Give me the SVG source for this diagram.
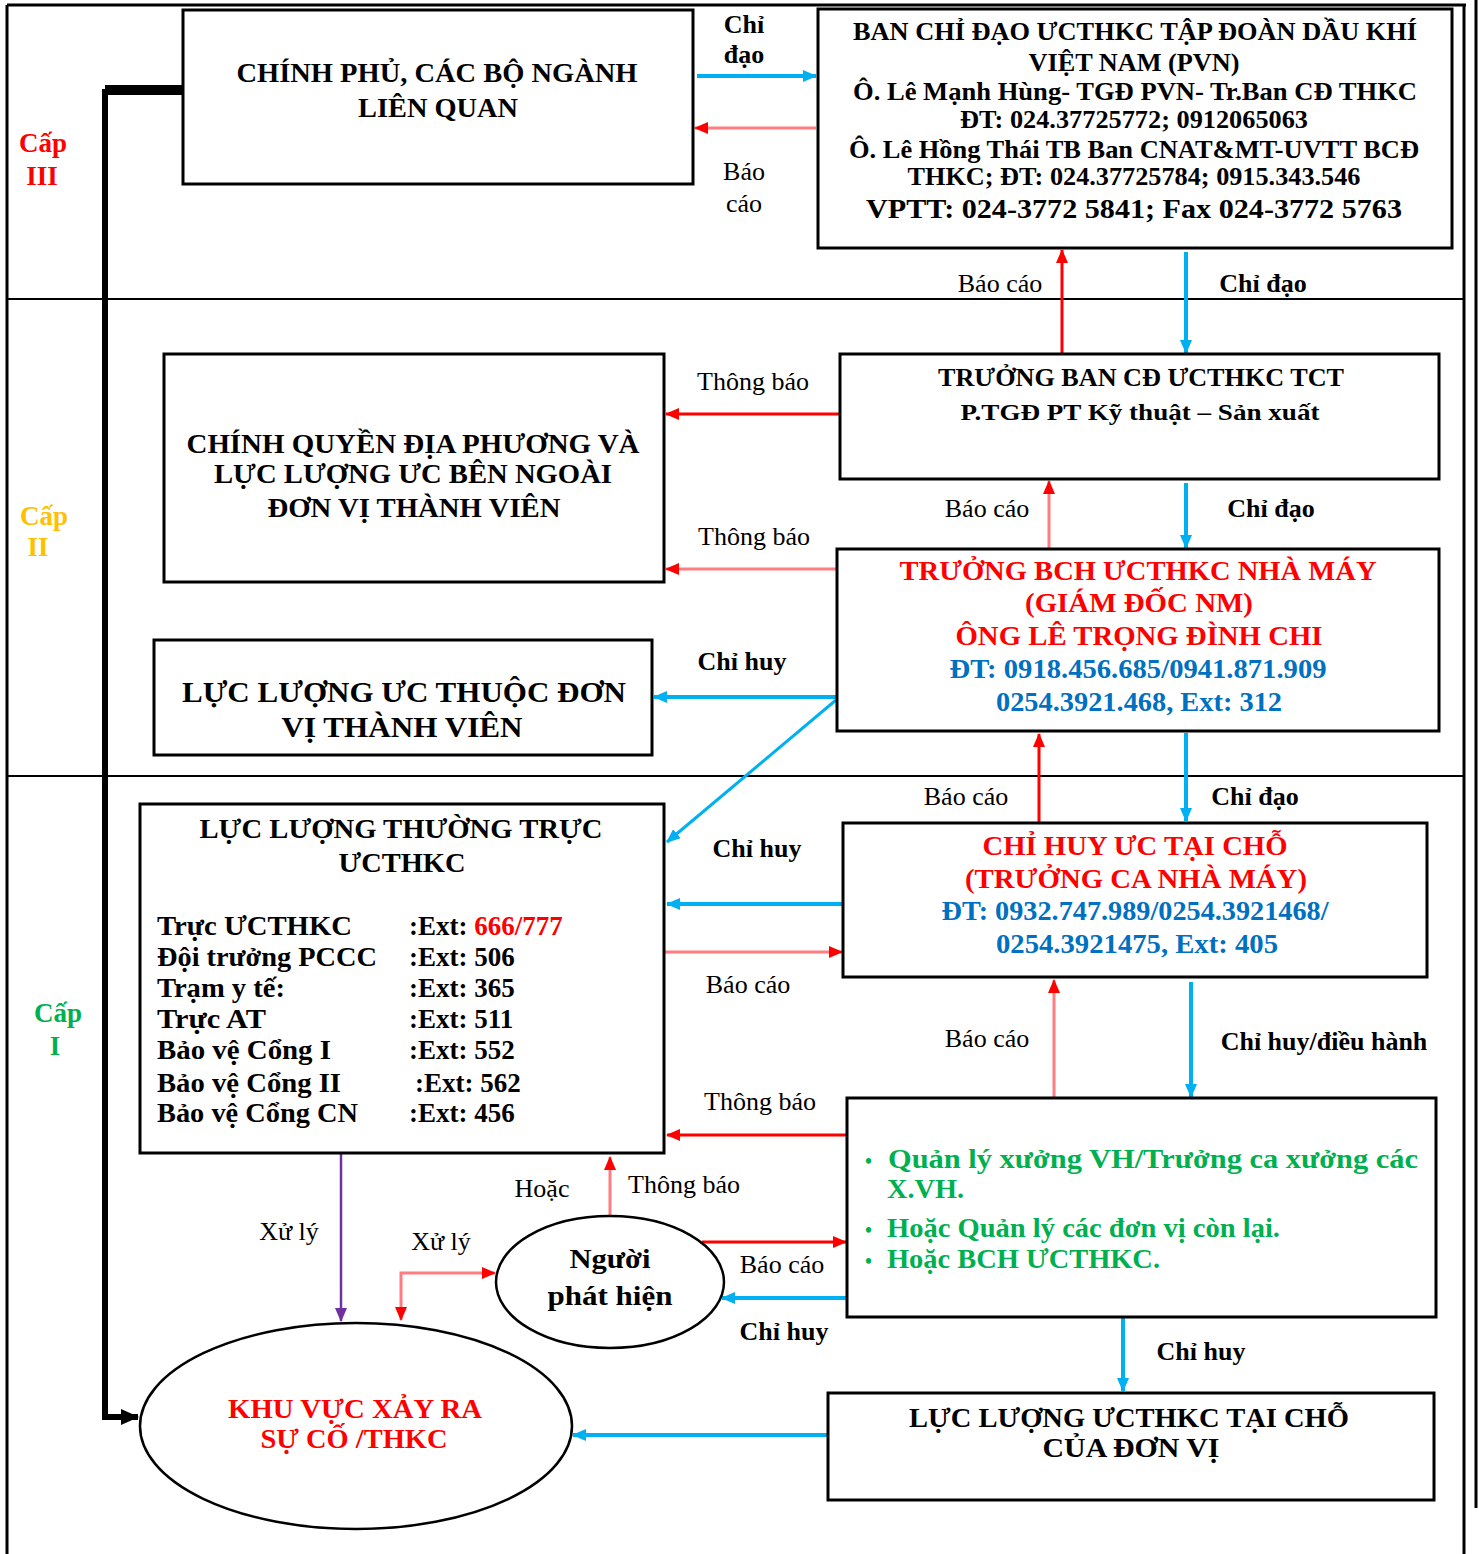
<svg xmlns="http://www.w3.org/2000/svg" width="1479" height="1554" viewBox="0 0 1479 1554">
<defs>
<style>
text{font-family:"Liberation Serif","Times New Roman",serif;font-weight:bold;fill:#000}
.c{text-anchor:middle}
.s{text-anchor:start}
.n{font-weight:normal}
.box{fill:#fff;stroke:#000;stroke-width:3}
.ell{fill:#fff;stroke:#000;stroke-width:2.5}
.frame{fill:none;stroke:#000;stroke-width:3}
.div{fill:none;stroke:#000;stroke-width:2}
.blue{fill:none;stroke:#00B0F0;stroke-width:4}
.red{fill:none;stroke:#FF0000;stroke-width:3}
.lred{fill:none;stroke:#FF7C80;stroke-width:3}
.pur{fill:none;stroke:#7030A0;stroke-width:2.5}
.blk{fill:none;stroke:#000;stroke-width:6}
.red-t{fill:#FF0000}
.blue-t{fill:#0070C0}
.green-t{fill:#00B050}
.yel-t{fill:#FFC000}
.lbl{font-size:26px}
</style>
<marker id="mb" markerUnits="userSpaceOnUse" markerWidth="14" markerHeight="12" refX="13" refY="6" orient="auto-start-reverse"><path d="M0,0 L14,6 L0,12 z" fill="#00B0F0"/></marker>
<marker id="mr" markerUnits="userSpaceOnUse" markerWidth="14" markerHeight="12" refX="13" refY="6" orient="auto-start-reverse"><path d="M0,0 L14,6 L0,12 z" fill="#FF0000"/></marker>
<marker id="mp" markerUnits="userSpaceOnUse" markerWidth="14" markerHeight="12" refX="13" refY="6" orient="auto-start-reverse"><path d="M0,0 L14,6 L0,12 z" fill="#7030A0"/></marker>
<marker id="mk" markerUnits="userSpaceOnUse" markerWidth="18" markerHeight="16" refX="17" refY="8" orient="auto-start-reverse"><path d="M0,0 L18,8 L0,16 z" fill="#000"/></marker>
</defs>

<g id="frame">
<path class="frame" d="M7,5 L1466,5"/>
<path class="frame" d="M7,5 L7,1554"/>
<path class="frame" d="M1464,5 L1464,1554"/>
<path class="frame" d="M1476,0 L1476,1508"/>
<path class="div" d="M7,299 L1464,299"/>
<path class="div" d="M7,776 L1464,776"/>
</g>

<g id="levels">
<text class="c red-t" x="43" y="152" font-size="27">Cấp</text>
<text class="c red-t" x="42" y="185" font-size="27">III</text>
<text class="c yel-t" x="44" y="525" font-size="27">Cấp</text>
<text class="c yel-t" x="38" y="556" font-size="27">II</text>
<text class="c green-t" x="58" y="1022" font-size="27">Cấp</text>
<text class="c green-t" x="55" y="1055" font-size="27">I</text>
</g>

<g id="connectors">
<path class="blk" d="M183,92 L105,92 L105,1417 L138,1417" marker-end="url(#mk)"/>
<path d="M105,88 L183,88" stroke="#000" stroke-width="6" fill="none"/>
<path class="blue" d="M697,76 L816,76" marker-end="url(#mb)"/>
<path class="lred" d="M816,128 L695,128" marker-end="url(#mr)"/>
<path class="red" d="M1062,354 L1062,250" marker-end="url(#mr)"/>
<path class="blue" d="M1186,252 L1186,353" marker-end="url(#mb)"/>
<path class="red" d="M840,414 L666,414" marker-end="url(#mr)"/>
<path class="lred" d="M837,569 L666,569" marker-end="url(#mr)"/>
<path class="lred" d="M1049,549 L1049,481" marker-end="url(#mr)"/>
<path class="blue" d="M1186,483 L1186,548" marker-end="url(#mb)"/>
<path class="blue" d="M836,697 L654,697" marker-end="url(#mb)"/>
<path class="blue" style="stroke-width:3" d="M836,700 L667,842" marker-end="url(#mb)"/>
<path class="red" d="M1039,822 L1039,734" marker-end="url(#mr)"/>
<path class="blue" d="M1186,733 L1186,821" marker-end="url(#mb)"/>
<path class="blue" d="M843,904 L667,904" marker-end="url(#mb)"/>
<path class="lred" d="M665,952 L842,952" marker-end="url(#mr)"/>
<path class="lred" d="M1054,1097 L1054,980" marker-end="url(#mr)"/>
<path class="blue" d="M1191,982 L1191,1097" marker-end="url(#mb)"/>
<path class="red" d="M847,1135 L667,1135" marker-end="url(#mr)"/>
<path class="pur" d="M341,1154 L341,1321" marker-end="url(#mp)"/>
<path class="lred" d="M401,1320 L401,1273 L495,1273" marker-start="url(#mr)" marker-end="url(#mr)"/>
<path class="lred" d="M610,1215 L610,1157" marker-end="url(#mr)"/>
<path class="red" d="M702,1242 L846,1242" marker-end="url(#mr)"/>
<path class="blue" d="M847,1298 L722,1298" marker-end="url(#mb)"/>
<path class="blue" d="M1123,1318 L1123,1391" marker-end="url(#mb)"/>
<path class="blue" d="M828,1435 L573,1435" marker-end="url(#mb)"/>
</g>

<g id="connector-labels">
<text class="c lbl" x="744" y="33">Chỉ</text>
<text class="c lbl" x="744" y="63">đạo</text>
<text class="c lbl n" x="744" y="180">Báo</text>
<text class="c lbl n" x="744" y="212">cáo</text>
<text class="c lbl n" x="1000" y="292">Báo cáo</text>
<text class="c lbl" x="1263" y="292">Chỉ đạo</text>
<text class="c lbl n" x="753" y="390">Thông báo</text>
<text class="c lbl n" x="754" y="545">Thông báo</text>
<text class="c lbl n" x="987" y="517">Báo cáo</text>
<text class="c lbl" x="1271" y="517">Chỉ đạo</text>
<text class="c lbl" x="742" y="670">Chỉ huy</text>
<text class="c lbl n" x="966" y="805">Báo cáo</text>
<text class="c lbl" x="1255" y="805">Chỉ đạo</text>
<text class="c lbl" x="757" y="857">Chỉ huy</text>
<text class="c lbl n" x="748" y="993">Báo cáo</text>
<text class="c lbl n" x="987" y="1047">Báo cáo</text>
<text class="c lbl" x="1324" y="1050">Chỉ huy/điều hành</text>
<text class="c lbl n" x="760" y="1110">Thông báo</text>
<text class="c lbl n" x="542" y="1197">Hoặc</text>
<text class="c lbl n" x="684" y="1193">Thông báo</text>
<text class="c lbl n" x="289" y="1240">Xử lý</text>
<text class="c lbl n" x="441" y="1250">Xử lý</text>
<text class="c lbl n" x="782" y="1273">Báo cáo</text>
<text class="c lbl" x="784" y="1340">Chỉ huy</text>
<text class="c lbl" x="1201" y="1360">Chỉ huy</text>
</g>

<g id="chinh-phu">
<rect class="box" x="183" y="10" width="510" height="174"/>
<text class="c" x="437" y="82" font-size="27" textLength="401" lengthAdjust="spacingAndGlyphs">CHÍNH PHỦ, CÁC BỘ NGÀNH</text>
<text class="c" x="438" y="117" font-size="27" textLength="160" lengthAdjust="spacingAndGlyphs">LIÊN QUAN</text>
</g>

<g id="ban-chi-dao">
<rect class="box" x="818" y="9" width="634" height="239"/>
<text class="c" x="1135" y="40" font-size="25" textLength="564" lengthAdjust="spacingAndGlyphs">BAN CHỈ ĐẠO ƯCTHKC TẬP ĐOÀN DẦU KHÍ</text>
<text class="c" x="1134" y="71" font-size="25" textLength="211" lengthAdjust="spacingAndGlyphs">VIỆT NAM (PVN)</text>
<text class="c" x="1135" y="100" font-size="25" textLength="564" lengthAdjust="spacingAndGlyphs">Ô. Lê Mạnh Hùng- TGĐ PVN- Tr.Ban CĐ THKC</text>
<text class="c" x="1134" y="128" font-size="25" textLength="348" lengthAdjust="spacingAndGlyphs">ĐT: 024.37725772; 0912065063</text>
<text class="c" x="1134" y="158" font-size="25" textLength="570" lengthAdjust="spacingAndGlyphs">Ô. Lê Hồng Thái TB Ban CNAT&amp;MT-UVTT BCĐ</text>
<text class="c" x="1134" y="185" font-size="25" textLength="453" lengthAdjust="spacingAndGlyphs">THKC; ĐT: 024.37725784; 0915.343.546</text>
<text class="c" x="1134" y="218" font-size="28" textLength="536" lengthAdjust="spacingAndGlyphs">VPTT: 024-3772 5841; Fax 024-3772 5763</text>
</g>

<g id="truong-ban-tct">
<rect class="box" x="840" y="354" width="599" height="125"/>
<text class="c" x="1141" y="386" font-size="26" textLength="406" lengthAdjust="spacingAndGlyphs">TRƯỞNG BAN CĐ ƯCTHKC TCT</text>
<text class="c" x="1140" y="420" font-size="23" textLength="359" lengthAdjust="spacingAndGlyphs">P.TGĐ  PT Kỹ thuật – Sản xuất</text>
</g>

<g id="chinh-quyen">
<rect class="box" x="164" y="354" width="500" height="228"/>
<text class="c" x="413" y="453" font-size="27" textLength="453" lengthAdjust="spacingAndGlyphs">CHÍNH QUYỀN ĐỊA PHƯƠNG VÀ</text>
<text class="c" x="413" y="483" font-size="27" textLength="398" lengthAdjust="spacingAndGlyphs">LỰC LƯỢNG ƯC BÊN NGOÀI</text>
<text class="c" x="414" y="517" font-size="27" textLength="293" lengthAdjust="spacingAndGlyphs">ĐƠN VỊ THÀNH VIÊN</text>
</g>

<g id="luc-luong-uc-don-vi">
<rect class="box" x="154" y="640" width="498" height="115"/>
<text class="c" x="404" y="702" font-size="29" textLength="444" lengthAdjust="spacingAndGlyphs">LỰC LƯỢNG ƯC THUỘC ĐƠN</text>
<text class="c" x="402" y="737" font-size="29" textLength="241" lengthAdjust="spacingAndGlyphs">VỊ THÀNH VIÊN</text>
</g>

<g id="truong-bch">
<rect class="box" x="837" y="549" width="602" height="182"/>
<text class="c red-t" x="1138" y="580" font-size="27" textLength="477" lengthAdjust="spacingAndGlyphs">TRƯỞNG BCH ƯCTHKC NHÀ MÁY</text>
<text class="c red-t" x="1139" y="612" font-size="27" textLength="228" lengthAdjust="spacingAndGlyphs">(GIÁM ĐỐC NM)</text>
<text class="c red-t" x="1139" y="645" font-size="27" textLength="367" lengthAdjust="spacingAndGlyphs">ÔNG LÊ TRỌNG ĐÌNH CHI</text>
<text class="c blue-t" x="1138" y="678" font-size="27" textLength="377" lengthAdjust="spacingAndGlyphs">ĐT: 0918.456.685/0941.871.909</text>
<text class="c blue-t" x="1139" y="711" font-size="27" textLength="286" lengthAdjust="spacingAndGlyphs">0254.3921.468, Ext: 312</text>
</g>

<g id="luc-luong-thuong-truc">
<rect class="box" x="140" y="804" width="524" height="349"/>
<text class="c" x="401" y="838" font-size="27" textLength="403" lengthAdjust="spacingAndGlyphs">LỰC LƯỢNG THƯỜNG TRỰC</text>
<text class="c" x="402" y="872" font-size="27" textLength="127" lengthAdjust="spacingAndGlyphs">ƯCTHKC</text>
<text class="s" x="157" y="935" font-size="27" textLength="195" lengthAdjust="spacingAndGlyphs">Trực ƯCTHKC</text>
<text class="s" x="157" y="966" font-size="27" textLength="220" lengthAdjust="spacingAndGlyphs">Đội trưởng PCCC</text>
<text class="s" x="157" y="997" font-size="27" textLength="128" lengthAdjust="spacingAndGlyphs">Trạm y tế:</text>
<text class="s" x="157" y="1028" font-size="27" textLength="109" lengthAdjust="spacingAndGlyphs">Trực AT</text>
<text class="s" x="157" y="1059" font-size="27" textLength="174" lengthAdjust="spacingAndGlyphs">Bảo vệ Cổng I</text>
<text class="s" x="157" y="1092" font-size="27" textLength="184" lengthAdjust="spacingAndGlyphs">Bảo vệ Cổng II</text>
<text class="s" x="157" y="1122" font-size="27" textLength="201" lengthAdjust="spacingAndGlyphs">Bảo vệ Cổng CN</text>
<text class="s" x="409" y="935" font-size="27">:Ext: <tspan class="red-t">666/777</tspan></text>
<text class="s" x="409" y="966" font-size="27">:Ext: 506</text>
<text class="s" x="409" y="997" font-size="27">:Ext: 365</text>
<text class="s" x="409" y="1028" font-size="27">:Ext: 511</text>
<text class="s" x="409" y="1059" font-size="27">:Ext: 552</text>
<text class="s" x="415" y="1092" font-size="27">:Ext: 562</text>
<text class="s" x="409" y="1122" font-size="27">:Ext: 456</text>
</g>

<g id="chi-huy-tai-cho">
<rect class="box" x="843" y="823" width="584" height="154"/>
<text class="c red-t" x="1135" y="855" font-size="27" textLength="305" lengthAdjust="spacingAndGlyphs">CHỈ HUY ƯC TẠI CHỖ</text>
<text class="c red-t" x="1136" y="888" font-size="27" textLength="342" lengthAdjust="spacingAndGlyphs">(TRƯỞNG CA NHÀ MÁY)</text>
<text class="c blue-t" x="1135" y="920" font-size="27" textLength="387" lengthAdjust="spacingAndGlyphs">ĐT: 0932.747.989/0254.3921468/</text>
<text class="c blue-t" x="1137" y="953" font-size="27" textLength="282" lengthAdjust="spacingAndGlyphs">0254.3921475, Ext: 405</text>
</g>

<g id="quan-ly">
<rect class="box" x="847" y="1098" width="589" height="219"/>
<text class="s green-t" x="865" y="1168" font-size="20">•</text>
<text class="s green-t" x="888" y="1168" font-size="28" textLength="530" lengthAdjust="spacingAndGlyphs">Quản lý xưởng VH/Trưởng ca xưởng các</text>
<text class="s green-t" x="887" y="1198" font-size="28" textLength="77" lengthAdjust="spacingAndGlyphs">X.VH.</text>
<text class="s green-t" x="865" y="1237" font-size="20">•</text>
<text class="s green-t" x="887" y="1237" font-size="28" textLength="393" lengthAdjust="spacingAndGlyphs">Hoặc Quản lý các đơn vị còn lại.</text>
<text class="s green-t" x="865" y="1268" font-size="20">•</text>
<text class="s green-t" x="887" y="1268" font-size="28" textLength="273" lengthAdjust="spacingAndGlyphs">Hoặc BCH ƯCTHKC.</text>
</g>

<g id="nguoi-phat-hien">
<ellipse class="ell" cx="610" cy="1282" rx="114" ry="66"/>
<text class="c" x="610" y="1268" font-size="28" textLength="81" lengthAdjust="spacingAndGlyphs">Người</text>
<text class="c" x="610" y="1305" font-size="28" textLength="125" lengthAdjust="spacingAndGlyphs">phát hiện</text>
</g>

<g id="khu-vuc">
<ellipse class="ell" cx="356" cy="1426" rx="216" ry="103"/>
<text class="c red-t" x="355" y="1418" font-size="27" textLength="254" lengthAdjust="spacingAndGlyphs">KHU VỰC XẢY RA</text>
<text class="c red-t" x="354" y="1448" font-size="27" textLength="187" lengthAdjust="spacingAndGlyphs">SỰ CỐ /THKC</text>
</g>

<g id="luc-luong-tai-cho">
<rect class="box" x="828" y="1393" width="606" height="107"/>
<text class="c" x="1129" y="1427" font-size="27" textLength="440" lengthAdjust="spacingAndGlyphs">LỰC LƯỢNG ƯCTHKC TẠI CHỖ</text>
<text class="c" x="1131" y="1457" font-size="27" textLength="177" lengthAdjust="spacingAndGlyphs">CỦA ĐƠN VỊ</text>
</g>
</svg>
